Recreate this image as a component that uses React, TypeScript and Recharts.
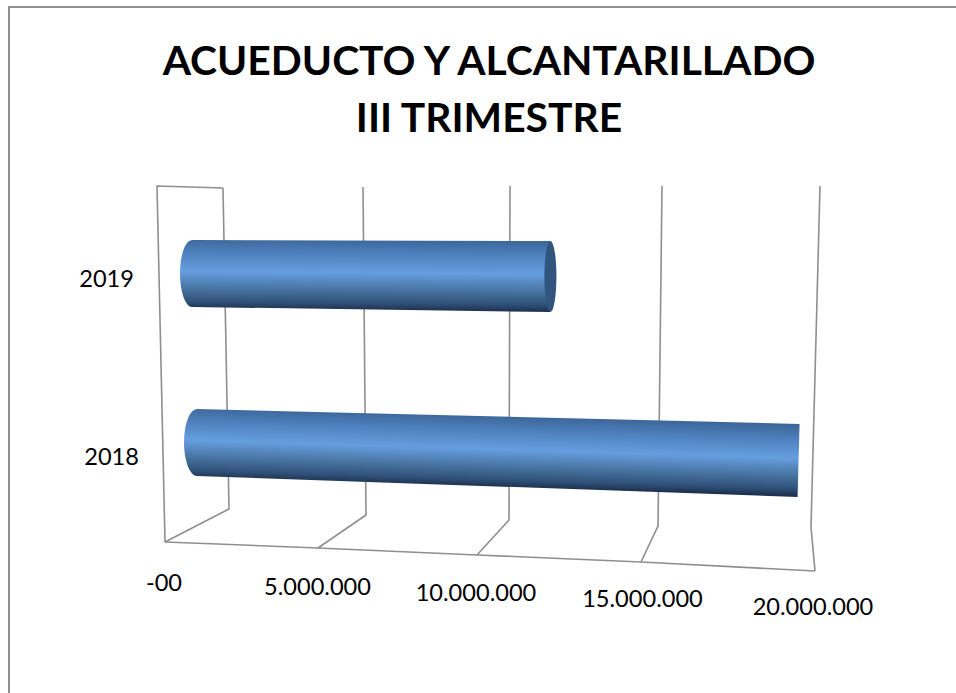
import React from 'react';
import { BarChart, Bar, XAxis, YAxis } from 'recharts';

const FONT = 'Lato, "Open Sans", sans-serif';
const AXIS_GREY = '#8e8e8e';

const categories = ['2019', '2018'];
const values = [11750000, 19600000];
const xTicks = [0, 5000000, 10000000, 15000000, 20000000];
const xTickLabels = ['-00', '5.000.000', '10.000.000', '15.000.000', '20.000.000'];

const data = categories.map((year, i) => ({ year, value: values[i] }));

const X_DOMAIN = [0, 20000000];

// Excel 3D look: the frame leans, so each tick gets its own offsets from the scale position
const WALL_TOP = [[33, -347], [17.5, -348], [9, -349], [5.5, -349], [8, -349]];
const WALL_BOTTOM = [[39, -26], [20.5, -20], [8, -15], [1.5, -9], [-1, -8]];
const FLOOR_FRONT = [[-25, 7], [-27.5, 13], [-24, 20], [-15.5, 27], [3, 36]];
const TICK_LABEL_POS = [[-26, 56], [-28, 60], [-25, 66], [-14, 72], [1, 80]];

const YEAR_LABEL_POS = [[-56, 13], [-51, 22]];

// per bar: left/right inset, cap bulge, and how far the edges drift downward to the right
const BAR_LOOK = [
  { inset: 2, bulge: 12, topDrift: 1, bottomDrift: 5, endCap: true },
  { inset: 7, bulge: 13, topDrift: 15, bottomDrift: 21, endCap: false },
];

function FrameTick({ x, y, index }: any) {
  const top = WALL_TOP[index];
  const bottom = WALL_BOTTOM[index];
  const front = FLOOR_FRONT[index];
  const label = TICK_LABEL_POS[index];
  const line = { stroke: AXIS_GREY, strokeWidth: 1.6, fill: 'none' };
  const px = (p: number[]) => `${x + p[0]},${y + p[1]}`;
  const nextFront = FLOOR_FRONT[index + 1];
  return (
    <g>
      <polyline points={`${px(top)} ${px(bottom)} ${px(front)}`} {...line} />
      {index === 0 && (
        <polyline points={`${px(top)} ${x - 33},${y - 349} ${px(front)}`} {...line} />
      )}
      {nextFront && (
        <line
          x1={x + front[0]}
          y1={y + front[1]}
          x2={x + 155.5 + nextFront[0]}
          y2={y + nextFront[1]}
          {...line}
        />
      )}
      <text x={x + label[0]} y={y + label[1]} textAnchor="middle" fontSize={23.6} fontFamily={FONT} fill="#000">
        {xTickLabels[index]}
      </text>
    </g>
  );
}

function YearTick({ x, y, index, payload }: any) {
  const pos = YEAR_LABEL_POS[index];
  return (
    <text x={x + pos[0] + 8} y={y + pos[1]} textAnchor="end" fontSize={23.6} fontFamily={FONT} fill="#000">
      {payload.value}
    </text>
  );
}

function TubeShape({ x, y, width, height, index }: any) {
  const look = BAR_LOOK[index];
  const left = x + look.inset;
  const right = x + width;
  const y2 = y + height;
  const rightTop = y + look.topDrift;
  const rightBottom = y2 + look.bottomDrift;
  const midL = (y + y2) / 2;
  const midR = (rightTop + rightBottom) / 2;
  const id = `tube${index}`;
  const capW = 5;
  const body = look.endCap
    ? `M${left},${y} L${right - capW},${rightTop} L${right - capW},${rightBottom} L${left},${y2}`
    : `M${left},${y} L${right},${rightTop} L${right - 2},${rightBottom} L${left},${y2}`;
  const d = `${body} A${look.bulge},${height / 2} 0 0 1 ${left},${y} Z`;
  // the shading has to run across the tube, which tilts a little
  const slope = (midR - midL) / (right - left);
  const half = (y2 - y) / 2 + 2;
  return (
    <g>
      <defs>
        <linearGradient
          id={id}
          gradientUnits="userSpaceOnUse"
          x1={(left + right) / 2 + slope * half}
          y1={(midL + midR) / 2 - half}
          x2={(left + right) / 2 - slope * half}
          y2={(midL + midR) / 2 + half}
        >
          <stop offset="0" stopColor="#3c6699" />
          <stop offset="0.2" stopColor="#4d80bd" />
          <stop offset="0.47" stopColor="#659edf" />
          <stop offset="0.72" stopColor="#47729f" />
          <stop offset="0.9" stopColor="#2f5078" />
          <stop offset="1" stopColor="#1d304d" />
        </linearGradient>
      </defs>
      <path d={d} fill={`url(#${id})`} />
      {look.endCap && (
        <ellipse
          cx={right - capW}
          cy={midR}
          rx={capW + 1}
          ry={(rightBottom - rightTop) / 2}
          fill="#31557f"
        />
      )}
    </g>
  );
}

export default function App() {
  return (
    <div style={{ position: 'absolute', left: 0, top: 0, width: 956, height: 693, background: '#fff', overflow: 'hidden' }}>
      <div
        style={{
          position: 'absolute',
          left: 8,
          top: 6,
          width: 960,
          height: 700,
          borderLeft: '2px solid #8f8f8f',
          borderTop: '2px solid #8f8f8f',
        }}
      />
      <div
        style={{
          position: 'absolute',
          left: 0,
          top: 31,
          width: 978,
          textAlign: 'center',
          fontFamily: FONT,
          fontWeight: 700,
          fontSize: 40.8,
          lineHeight: '57px',
          color: '#000',
        }}
      >
        ACUEDUCTO Y ALCANTARILLADO
        <br />
        III TRIMESTRE
      </div>
      {/* back layer: frame and labels. Axes paint over bars, so the tubes get their own chart on top */}
      <div style={{ position: 'absolute', left: 0, top: 0 }}>
        <BarChart
          width={956}
          height={693}
          data={data}
          layout="vertical"
          margin={{ top: 189, right: 144, bottom: 0, left: 0 }}
        >
          <XAxis
            type="number"
            domain={X_DOMAIN}
            ticks={xTicks}
            axisLine={false}
            tickLine={false}
            tick={<FrameTick />}
            height={166}
            interval={0}
          />
          <YAxis
            type="category"
            dataKey="year"
            width={190}
            axisLine={false}
            tickLine={false}
            tick={<YearTick />}
          />
          {/* invisible, the number axis only draws its ticks when a series is attached */}
          <Bar dataKey="value" fill="none" isAnimationActive={false} />
        </BarChart>
      </div>
      <div style={{ position: 'absolute', left: 0, top: 0 }}>
        <BarChart
          width={956}
          height={693}
          data={data}
          layout="vertical"
          barSize={67}
          margin={{ top: 189, right: 144, bottom: 166, left: 190 }}
        >
          <XAxis type="number" domain={X_DOMAIN} hide />
          <YAxis type="category" dataKey="year" hide />
          <Bar dataKey="value" isAnimationActive={false} shape={<TubeShape />} />
        </BarChart>
      </div>
    </div>
  );
}
